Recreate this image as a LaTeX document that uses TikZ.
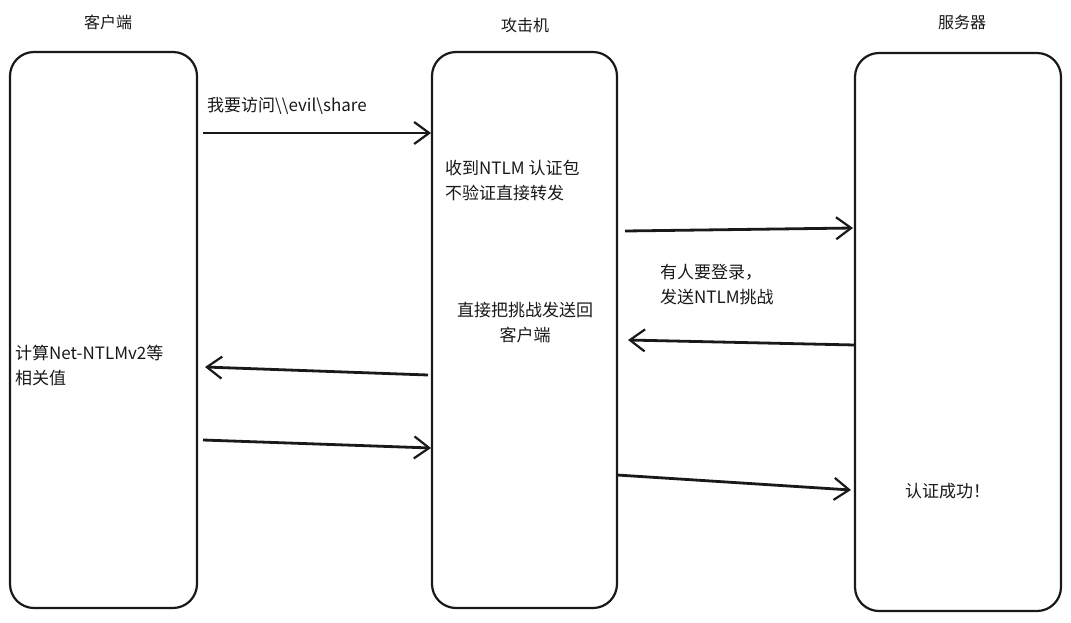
\documentclass[tikz,border=0pt]{standalone}
\usepackage{fontspec}
\setmainfont{Noto Sans CJK SC}
\usetikzlibrary{arrows.meta}
\begin{document}
\begin{tikzpicture}[x=1pt,y=-1pt,
  lane/.style={draw=black!90,line width=2.2pt,rounded corners=24pt},
  msg/.style={draw=black!90,line width=2.8pt,-{Straight Barb[length=15pt,width=22pt,line width=2.2pt]}},
  ttl/.style={font=\fontsize{16}{19}\selectfont,text=black!90},
  lbl/.style={font=\fontsize{17}{25}\selectfont,text=black!90,align=left,inner sep=0pt}]
\useasboundingbox[fill=white] (0,0) rectangle (1071,622);
% lanes
\draw[lane] (10,52) rectangle (197,608);
\node (client) at (103.5,330) {};
\draw[lane] (432,52) rectangle (617,608);
\node (attacker) at (524.5,330) {};
\draw[lane] (855,53) rectangle (1061,611);
\node (server) at (958,330) {};
% titles
\node[ttl] (t1) at (108,22) {客户端};
\node[ttl] (t2) at (525,25) {攻击机};
\node[ttl] (t3) at (962,22) {服务器};
% anchor coordinates for messages
\coordinate (a1s) at (203,133); \coordinate (a1e) at (431,133);
\coordinate (a2s) at (625,231); \coordinate (a2e) at (853,228);
\coordinate (a3s) at (855,345); \coordinate (a3e) at (628,340);
\coordinate (a4s) at (428,375); \coordinate (a4e) at (205,367);
\coordinate (a5s) at (203,440); \coordinate (a5e) at (431,448);
\coordinate (a6s) at (617,475); \coordinate (a6e) at (851,490);
\draw[msg] (a1s) -- (a1e);
\draw[msg] (a2s) -- (a2e);
\draw[msg] (a3s) -- (a3e);
\draw[msg] (a4s) -- (a4e);
\draw[msg] (a5s) -- (a5e);
\draw[msg] (a6s) -- (a6e);
% labels
\node[lbl,anchor=west] (l1) at (207,106) {我要访问\textbackslash\textbackslash evil\textbackslash share};
\node[lbl,anchor=north west] (l2) at (445,160) {收到NTLM 认证包\\不验证直接转发};
\node[lbl,anchor=north west] (l3) at (660,264) {有人要登录，\\发送NTLM挑战};
\node[lbl,anchor=north,align=center] (l4) at (525,302) {直接把挑战发送回\\客户端};
\node[lbl,anchor=north west] (l5) at (15,345) {计算Net-NTLMv2等\\相关值};
\node[lbl,anchor=west] (l6) at (905,491) {认证成功！};
\end{tikzpicture}
\end{document}
